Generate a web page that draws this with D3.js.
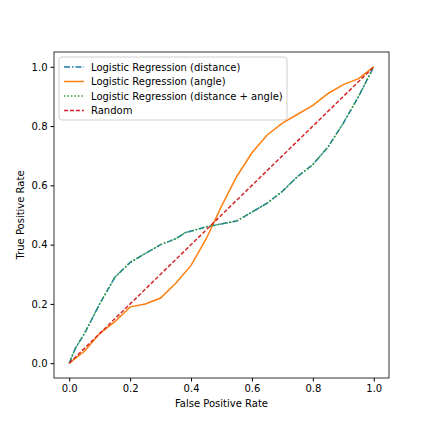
<!DOCTYPE html>
<html><head><meta charset="utf-8">
<script src="https://cdn.jsdelivr.net/npm/d3@7"></script>
<style>body{margin:0;background:#fff}text{font-family:"DejaVu Sans",sans-serif}</style>
</head><body><svg id="c" width="432" height="432"></svg>
<script>
// ROC curves
const distFpr = [0,0.02,0.05,0.1,0.15,0.2,0.25,0.3,0.35,0.38,0.45,0.5,0.55,0.6,0.65,0.7,0.75,0.8,0.85,0.9,0.95,1]
const distTpr = [0,0.05,0.1,0.2,0.29,0.34,0.37,0.4,0.42,0.44,0.46,0.47,0.48,0.51,0.54,0.58,0.63,0.67,0.73,0.81,0.9,1]
const angFpr = [0,0.05,0.1,0.15,0.2,0.25,0.3,0.35,0.4,0.45,0.5,0.55,0.6,0.65,0.7,0.75,0.8,0.85,0.9,0.95,1]
const angTpr = [0,0.04,0.1,0.14,0.19,0.2,0.22,0.27,0.33,0.42,0.53,0.63,0.71,0.77,0.81,0.84,0.87,0.91,0.94,0.96,1]
const ticks = [0,0.2,0.4,0.6,0.8,1.0]

const svg = d3.select('#c')
const x = d3.scaleLinear().domain([-0.05,1.05]).range([54,389])
const y = d3.scaleLinear().domain([-0.05,1.05]).range([378,52])

svg.append('g').attr('transform','translate(0,378)')
  .call(d3.axisBottom(x).tickValues(ticks).tickFormat(d3.format('.1f')).tickSizeOuter(0).tickSize(3.5))
svg.append('g').attr('transform','translate(54,0)')
  .call(d3.axisLeft(y).tickValues(ticks).tickFormat(d3.format('.1f')).tickSizeOuter(0).tickSize(3.5))
svg.selectAll('.tick text').attr('font-size',10).attr('fill','#000')
svg.selectAll('.domain').remove()
svg.append('rect').attr('x',54).attr('y',52).attr('width',335).attr('height',326)
  .attr('fill','none').attr('stroke','#000').attr('stroke-width',0.8)

const line = d3.line().x(d => x(d[0])).y(d => y(d[1]))
const dist = distFpr.map((v,i) => [v,distTpr[i]])
const ang = angFpr.map((v,i) => [v,angTpr[i]])

const series = [
  {data: dist, color:'#1f77b4', dash:'6,2,1.5,2', label:'Logistic Regression (distance)'},
  {data: ang, color:'#ff7f0e', dash:null, label:'Logistic Regression (angle)'},
  {data: dist, color:'#2ca02c', dash:'1.5,2', label:'Logistic Regression (distance + angle)'},
  {data: [[0,0],[1,1]], color:'#d62728', dash:'4,2', label:'Random'}
]
series.forEach(s => svg.append('path').attr('d', line(s.data)).attr('fill','none')
  .attr('stroke', s.color).attr('stroke-width',1.5).attr('stroke-dasharray', s.dash))

const lg = svg.append('g').attr('transform','translate(59,57)')
lg.append('rect').attr('width',228).attr('height',63).attr('rx',3)
  .attr('fill','#fff').attr('stroke','#ccc').attr('opacity',0.9)
series.forEach((s,i) => {
  const yy = 10 + i*14.5
  lg.append('line').attr('x1',5).attr('x2',25).attr('y1',yy).attr('y2',yy)
    .attr('stroke',s.color).attr('stroke-width',1.5).attr('stroke-dasharray',s.dash)
  lg.append('text').attr('x',32).attr('y',yy+3.5).attr('font-size',10).text(s.label)
})

svg.append('text').attr('x',221.5).attr('y',407).attr('text-anchor','middle').attr('font-size',10).text('False Positive Rate')
svg.append('text').attr('transform','translate(24,215) rotate(-90)').attr('text-anchor','middle').attr('font-size',10).text('True Positive Rate')
</script></body></html>
